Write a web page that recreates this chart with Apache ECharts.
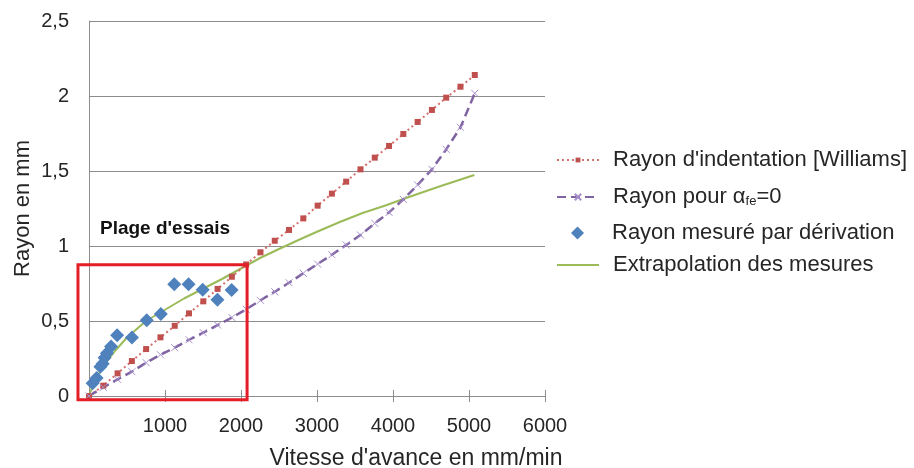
<!DOCTYPE html>
<html><head><meta charset="utf-8">
<script src="https://cdn.jsdelivr.net/npm/echarts@6/dist/echarts.min.js"></script>
<style>html,body{margin:0;padding:0;background:#fff}#c{width:914px;height:468px}</style>
</head><body><div id="c"></div>
<script>
const feedRate = [0,188,376,564,752,940,1128,1316,1504,1692,1880,2068,2256,2444,2632,2820,3008,3196,3384,3572,3760,3948,4136,4324,4512,4700,4888,5076];
const williamsRadius = [0,0.069,0.151,0.233,0.313,0.391,0.468,0.551,0.631,0.714,0.795,0.877,0.958,1.035,1.107,1.184,1.269,1.349,1.429,1.511,1.589,1.667,1.747,1.827,1.907,1.989,2.062,2.14];
const alphaZeroRadius = [0,0.058,0.111,0.162,0.222,0.275,0.322,0.375,0.422,0.473,0.523,0.578,0.638,0.695,0.755,0.818,0.88,0.942,1.007,1.073,1.151,1.224,1.311,1.407,1.511,1.644,1.791,2.018];
const measuredFeed = [48,100,150,180,205,235,290,370,565,760,945,1122,1310,1496,1690,1877];
const measuredRadius = [0.085,0.12,0.195,0.215,0.255,0.285,0.33,0.405,0.39,0.505,0.547,0.745,0.745,0.708,0.642,0.707];
const extrapFeed = [0,50,100,150,250,350,500,750,1000,1250,1500,1750,2000,2250,2500,2800,3000,3300,3600,3900,4200,4600,5070];
const extrapRadius = [0,0.07,0.12,0.165,0.24,0.305,0.39,0.5,0.575,0.65,0.715,0.78,0.85,0.92,0.98,1.05,1.095,1.16,1.22,1.27,1.325,1.395,1.473];
const testBoxFeed = [-145, 2080];
const testBoxRadius = [-0.025, 0.875];
const seriesNames = ["Rayon d'indentation [Williams]", "Rayon pour αfe=0", "Rayon mesuré par dérivation", "Extrapolation des mesures"];
const boxLabel = "Plage d'essais";
const xAxisTitle = "Vitesse d'avance en mm/min";
const yAxisTitle = "Rayon en mm";

const FONT = "'Liberation Sans', Arial, sans-serif";
const TXT = '#262626';
const zip = (a, b) => a.map((v, i) => [v, b[i]]);

const chart = echarts.init(document.getElementById('c'), null, {renderer: 'canvas'});

function legendAt(item, top, opts) {
  opts = opts || {};
  const w = opts.itemWidth || 42;
  return {
    data: [item], left: opts.left || 556, top: top, itemWidth: w, itemHeight: opts.itemHeight || 9,
    padding: 0, selectedMode: false,
    formatter: n => n === seriesNames[1] ? 'Rayon pour α{sub|fe}=0' : n,
    textStyle: {
      fontFamily: FONT, fontSize: 22, color: TXT, padding: [0, 0, 0, opts.textPad || 9],
      rich: { sub: { fontFamily: FONT, fontSize: 13, color: TXT, padding: [9, 0, 0, 0] } }
    }
  };
}

chart.setOption({
  animation: false,
  grid: { left: 89, right: 369, top: 21, bottom: 72, containLabel: false, outerBoundsMode: 'none' },
  legend: [
    legendAt(seriesNames[0], 149, { itemHeight: 6 }),
    legendAt(seriesNames[1], 186, { itemHeight: 8 }),
    legendAt(seriesNames[2], 222, { left: 571, itemWidth: 13, itemHeight: 13, textPad: 23 }),
    legendAt({ name: seriesNames[3], itemStyle: { opacity: 0 } }, 254)
  ],
  xAxis: [{
    type: 'value', min: 0, max: 6000, interval: 1000,
    name: xAxisTitle, nameLocation: 'middle', nameGap: 51,
    nameTextStyle: { fontFamily: FONT, fontSize: 23, color: TXT, padding: [0, 0, 0, 198] },
    axisLine: { show: true, lineStyle: { color: '#8c8c8c', width: 1 } },
    axisTick: { show: true, inside: false, length: 6, lineStyle: { color: '#8c8c8c' } },
    axisLabel: { showMinLabel: false, margin: 20, fontFamily: FONT, fontSize: 20, color: TXT,
      formatter: v => v === 0 ? '' : String(v) },
    splitLine: { show: false }
  }, {
    type: 'value', min: 0, max: 6000, interval: 1000, position: 'top', offset: -375,
    axisLine: { show: false },
    axisTick: { show: true, inside: false, length: 6, lineStyle: { color: '#8c8c8c' } },
    axisLabel: { show: false }, splitLine: { show: false }
  }],
  yAxis: {
    type: 'value', min: 0, max: 2.5, interval: 0.5,
    name: yAxisTitle, nameLocation: 'middle', nameGap: 55,
    nameTextStyle: { fontFamily: FONT, fontSize: 22, color: TXT },
    axisLine: { show: true, lineStyle: { color: '#8c8c8c', width: 1 } },
    axisTick: { show: false },
    axisLabel: { margin: 20, fontFamily: FONT, fontSize: 20, color: TXT,
      formatter: v => String(v).replace('.', ',') },
    splitLine: { show: true, lineStyle: { color: '#8c8c8c', width: 1 } }
  },
  series: [
    {
      name: seriesNames[0], type: 'line', data: zip(feedRate, williamsRadius),
      symbol: 'rect', symbolSize: 6,
      lineStyle: { color: '#d46f6c', width: 2, type: [2, 3] },
      itemStyle: { color: '#c0504d' }, z: 3
    },
    {
      name: seriesNames[1], type: 'line', data: zip(feedRate, alphaZeroRadius),
      symbol: 'path://M0,0L10,10M0,10L10,0', symbolSize: 7,
      lineStyle: { color: '#8064a2', width: 2.5, type: [9, 5] },
      itemStyle: { color: 'rgba(0,0,0,0)', borderColor: '#a58fcb', borderWidth: 1 }, z: 3
    },
    {
      name: seriesNames[3], type: 'line', data: zip(extrapFeed, extrapRadius),
      symbol: 'none', showSymbol: false,
      lineStyle: { color: '#9bbb59', width: 2 },
      itemStyle: { color: '#9bbb59' }, z: 2
    },
    {
      name: seriesNames[2], type: 'scatter', data: zip(measuredFeed, measuredRadius),
      symbol: 'diamond', symbolSize: 14,
      itemStyle: { color: '#4f81bd', opacity: 1 }, z: 4
    }
  ]
});

const tl = chart.convertToPixel({xAxisIndex: 0, yAxisIndex: 0}, [testBoxFeed[0], testBoxRadius[1]]);
const br = chart.convertToPixel({xAxisIndex: 0, yAxisIndex: 0}, [testBoxFeed[1], testBoxRadius[0]]);
chart.setOption({
  graphic: [
    { type: 'rect', z: 100, shape: { x: tl[0], y: tl[1], width: br[0] - tl[0], height: br[1] - tl[1] },
      style: { fill: 'none', stroke: '#e41e26', lineWidth: 3 } },
    { type: 'text', z: 100, x: tl[0] + 22, y: tl[1] - 45,
      style: { text: boxLabel, font: "bold 19px 'Liberation Sans', Arial, sans-serif", fill: '#111', textVerticalAlign: 'top' } }
  ]
});
</script>
</body></html>
